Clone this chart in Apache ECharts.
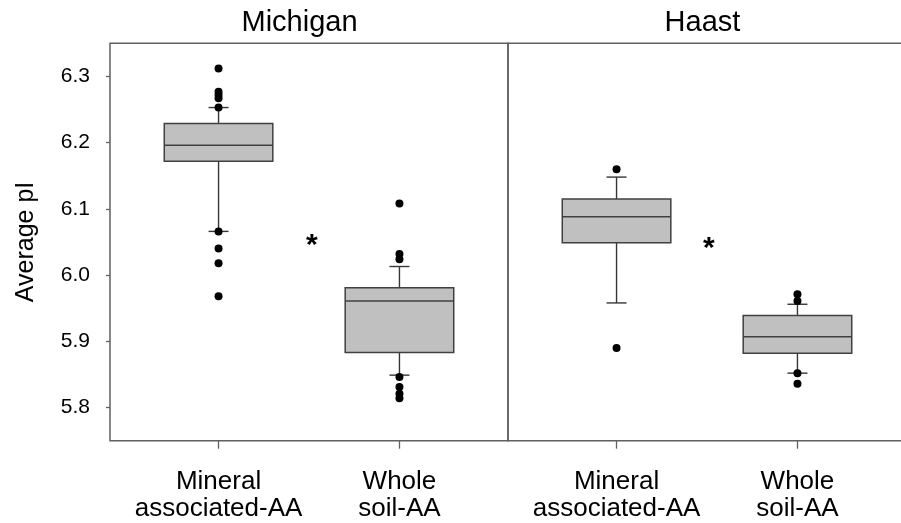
<!DOCTYPE html>
<html>
<head>
<meta charset="utf-8">
<script src="https://cdn.jsdelivr.net/npm/echarts@6/dist/echarts.min.js"></script>
<style>html,body{margin:0;padding:0;background:#fff}#c{width:901px;height:523px}</style>
</head>
<body>
<div id="c"></div>
<script>
// ---- data ----
const panels = ['Michigan', 'Haast'];
const categories = ['Mineral\nassociated-AA', 'Whole\nsoil-AA'];
const categoryPos = [1, 2];
const yTicks = [5.8, 5.9, 6.0, 6.1, 6.2, 6.3];
// [lower whisker, Q1, median, Q3, upper whisker]
const michiganMineral = [6.066, 6.172, 6.196, 6.229, 6.253];
const michiganWhole   = [5.849, 5.883, 5.961, 5.981, 6.013];
const haastMineral    = [5.958, 6.049, 6.088, 6.115, 6.148];
const haastWhole      = [5.852, 5.882, 5.907, 5.939, 5.956];
// outliers
const michiganMineralOut = [6.312, 6.277, 6.272, 6.267, 6.253, 6.066, 6.040, 6.018, 5.968];
const michiganWholeOut   = [6.108, 6.032, 6.024, 5.846, 5.831, 5.821, 5.814];
const haastMineralOut    = [6.160, 5.890];
const haastWholeOut      = [5.971, 5.961, 5.852, 5.836];
// significance marks [x, y]
const michiganSig = [[1.516, 6.0445]];
const haastSig    = [[1.510, 6.0405]];

const boxData = [
  [michiganMineral, michiganWhole],
  [haastMineral, haastWhole]
];
const outData = [
  [michiganMineralOut, michiganWholeOut],
  [haastMineralOut, haastWholeOut]
];
const sigData = [michiganSig, haastSig];

const chart = echarts.init(document.getElementById('c'), null, {renderer: 'canvas'});
const FONT = 'Liberation Sans, Arial, sans-serif';
const frameColor = '#606060';

function renderBox(params, api) {
  const x = api.value(0);
  const lo = api.value(1), q1 = api.value(2), med = api.value(3), q3 = api.value(4), hi = api.value(5);
  const pLo = api.coord([x, lo]), pQ1 = api.coord([x, q1]), pMed = api.coord([x, med]);
  const pQ3 = api.coord([x, q3]), pHi = api.coord([x, hi]);
  const half = api.size([0.3, 0])[0];
  const cap = 10;
  const cx = pLo[0];
  const ls = {stroke: '#363636', lineWidth: 1.4, fill: null};
  return {
    type: 'group',
    children: [
      {type: 'line', shape: {x1: cx, y1: pLo[1], x2: cx, y2: pQ1[1]}, style: ls},
      {type: 'line', shape: {x1: cx, y1: pQ3[1], x2: cx, y2: pHi[1]}, style: ls},
      {type: 'line', shape: {x1: cx - cap, y1: pLo[1], x2: cx + cap, y2: pLo[1]}, style: ls},
      {type: 'line', shape: {x1: cx - cap, y1: pHi[1], x2: cx + cap, y2: pHi[1]}, style: ls},
      {type: 'rect', shape: {x: cx - half, y: pQ3[1], width: 2 * half, height: pQ1[1] - pQ3[1]},
        style: {fill: '#c0c0c0', stroke: '#404040', lineWidth: 1.5}},
      {type: 'line', shape: {x1: cx - half, y1: pMed[1], x2: cx + half, y2: pMed[1]}, style: {stroke: '#404040', lineWidth: 1.5}}
    ]
  };
}

const grids = [], xAxes = [], yAxes = [], series = [];
panels.forEach((p, i) => {
  grids.push({left: 110 + i * 398, top: 43.3, width: 398, height: 397.4, show: true,
    outerBoundsMode: 'none',
    borderColor: frameColor, borderWidth: 1.5, backgroundColor: 'transparent', containLabel: false});
  xAxes.push({
    type: 'value', gridIndex: i, min: 0.4, max: 2.6,
    axisLine: {show: false}, splitLine: {show: false},
    axisTick: {show: true, customValues: categoryPos, length: 8, lineStyle: {color: frameColor, width: 1.3}},
    axisLabel: {customValues: categoryPos, margin: 28, fontSize: 26, lineHeight: 27, color: '#000', fontFamily: FONT,
      formatter: v => categories[categoryPos.indexOf(Math.round(v))] || ''}
  });
  yAxes.push({
    type: 'value', gridIndex: i, min: 5.75, max: 6.35, show: i === 0,
    name: i === 0 ? 'Average pI' : '', nameLocation: 'middle', nameRotate: 90, nameGap: 71,
    nameTextStyle: {fontSize: 25, color: '#000', fontFamily: FONT},
    axisLine: {show: false}, splitLine: {show: false},
    axisTick: {show: true, customValues: yTicks, length: 4, lineStyle: {color: frameColor, width: 1.3}},
    axisLabel: {customValues: yTicks, margin: 20, fontSize: 21, color: '#000', fontFamily: FONT,
      formatter: v => v.toFixed(1)}
  });
  series.push({
    type: 'custom', xAxisIndex: i, yAxisIndex: i, renderItem: renderBox, z: 2,
    encode: {x: 0, y: [1, 2, 3, 4, 5]},
    data: boxData[i].map((b, j) => [categoryPos[j]].concat(b))
  });
  const pts = [];
  outData[i].forEach((arr, j) => arr.forEach(v => pts.push([categoryPos[j], v])));
  series.push({
    type: 'scatter', xAxisIndex: i, yAxisIndex: i, symbol: 'circle', symbolSize: 8, z: 3,
    itemStyle: {color: '#000', opacity: 1}, data: pts, silent: true
  });
  series.push({
    type: 'scatter', xAxisIndex: i, yAxisIndex: i, symbolSize: 0, z: 4,
    itemStyle: {opacity: 1, color: '#000'},
    label: {show: true, position: 'inside', formatter: '*', fontSize: 30, fontWeight: 'bold', color: '#000', opacity: 1, fontFamily: FONT},
    data: sigData[i]
  });
});

chart.setOption({
  animation: false,
  backgroundColor: '#fff',
  grid: grids, xAxis: xAxes, yAxis: yAxes, series: series,
  graphic: [
    {type: 'text', x: 299.5, y: 23, style: {text: panels[0], font: '29px ' + FONT, fill: '#000', align: 'center', verticalAlign: 'middle'}},
    {type: 'text', x: 702.5, y: 23, style: {text: panels[1], font: '29px ' + FONT, fill: '#000', align: 'center', verticalAlign: 'middle'}}
  ]
});
</script>
</body>
</html>
